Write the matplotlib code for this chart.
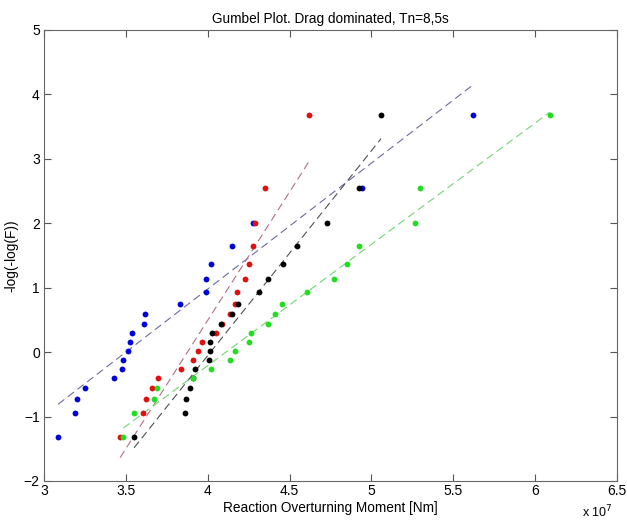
import numpy as np
import matplotlib
matplotlib.use("Agg")
import matplotlib.pyplot as plt

plt.rcParams['font.family'] = ['Liberation Sans', 'DejaVu Sans']

# Gumbel reduced variate, -log(-log(F))
gumbel_y = [-1.31, -0.95, -0.73, -0.56, -0.40, -0.26, -0.12, 0.02, 0.16, 0.29,
            0.44, 0.59, 0.75, 0.93, 1.13, 1.37, 1.65, 2.01, 2.55, 3.68]

# Reaction overturning moment (x 1e7 Nm), sorted, per series
blue_x = [3.086, 3.189, 3.199, 3.248, 3.430, 3.479, 3.481, 3.515, 3.525, 3.537,
          3.612, 3.619, 3.831, 3.992, 3.992, 4.022, 4.147, 4.274, 4.940, 5.623]
red_x = [3.465, 3.603, 3.624, 3.662, 3.698, 3.834, 3.908, 3.942, 3.964, 4.053,
         4.089, 4.133, 4.165, 4.181, 4.228, 4.254, 4.279, 4.289, 4.352, 4.617]
black_x = [3.550, 3.864, 3.867, 3.891, 3.909, 3.920, 4.008, 4.012, 4.016, 4.028,
           4.079, 4.147, 4.187, 4.314, 4.366, 4.459, 4.548, 4.727, 4.922, 5.059]
green_x = [3.485, 3.552, 3.672, 3.688, 3.912, 4.019, 4.139, 4.165, 4.250, 4.264,
           4.371, 4.409, 4.454, 4.608, 4.773, 4.853, 4.924, 5.268, 5.295, 6.089]

series = [
    (blue_x, '#0000d8', '#6c6c9c'),
    (red_x, '#e01010', '#b07080'),
    (black_x, '#000000', '#505050'),
    (green_x, '#22dd22', '#70d870'),
]

fig = plt.figure(figsize=(6.27, 5.24), dpi=100)
ax = fig.add_axes([0.0702, 0.0821, 0.9139, 0.8607])

y = np.array(gumbel_y)
for xs, mc, lc in series:
    xs = np.array(xs)
    p = np.polyfit(xs, y, 1)
    xl = np.array([xs.min(), xs.max()])
    ax.plot(xl, np.polyval(p, xl), linestyle=(0, (7, 4)), color=lc, linewidth=0.8, zorder=1)

for xs, mc, lc in series:
    ax.plot(xs, y, 'o', color=mc, markersize=4.2, markeredgewidth=0, zorder=3)

ax.set_xlim(3, 6.5)
ax.set_ylim(-2, 5)
ax.set_xticks([3, 3.5, 4, 4.5, 5, 5.5, 6, 6.5])
ax.set_xticklabels(['3', '3.5', '4', '4.5', '5', '5.5', '6', '6.5'])
ax.set_yticks(range(-2, 6))
ax.tick_params(direction='in', top=True, right=True, labelsize=10, length=5,
               color='#555555', width=0.8)
ax.tick_params(axis='x', pad=2)
ax.tick_params(axis='y', pad=3)
for s in ax.spines.values():
    s.set_color('#666666')
    s.set_linewidth(0.8)

ax.set_title('Gumbel Plot. Drag dominated, Tn=8,5s', fontsize=9.8, pad=5)
ax.set_xlabel('Reaction Overturning Moment [Nm]', fontsize=9.8, labelpad=2)
ax.set_ylabel('-log(-log(F))', fontsize=9.8, labelpad=4)
fig.text(0.953, 0.008, r'x 10$^7$', fontsize=9, ha='center', va='bottom')

fig.savefig('out.png', dpi=100)
